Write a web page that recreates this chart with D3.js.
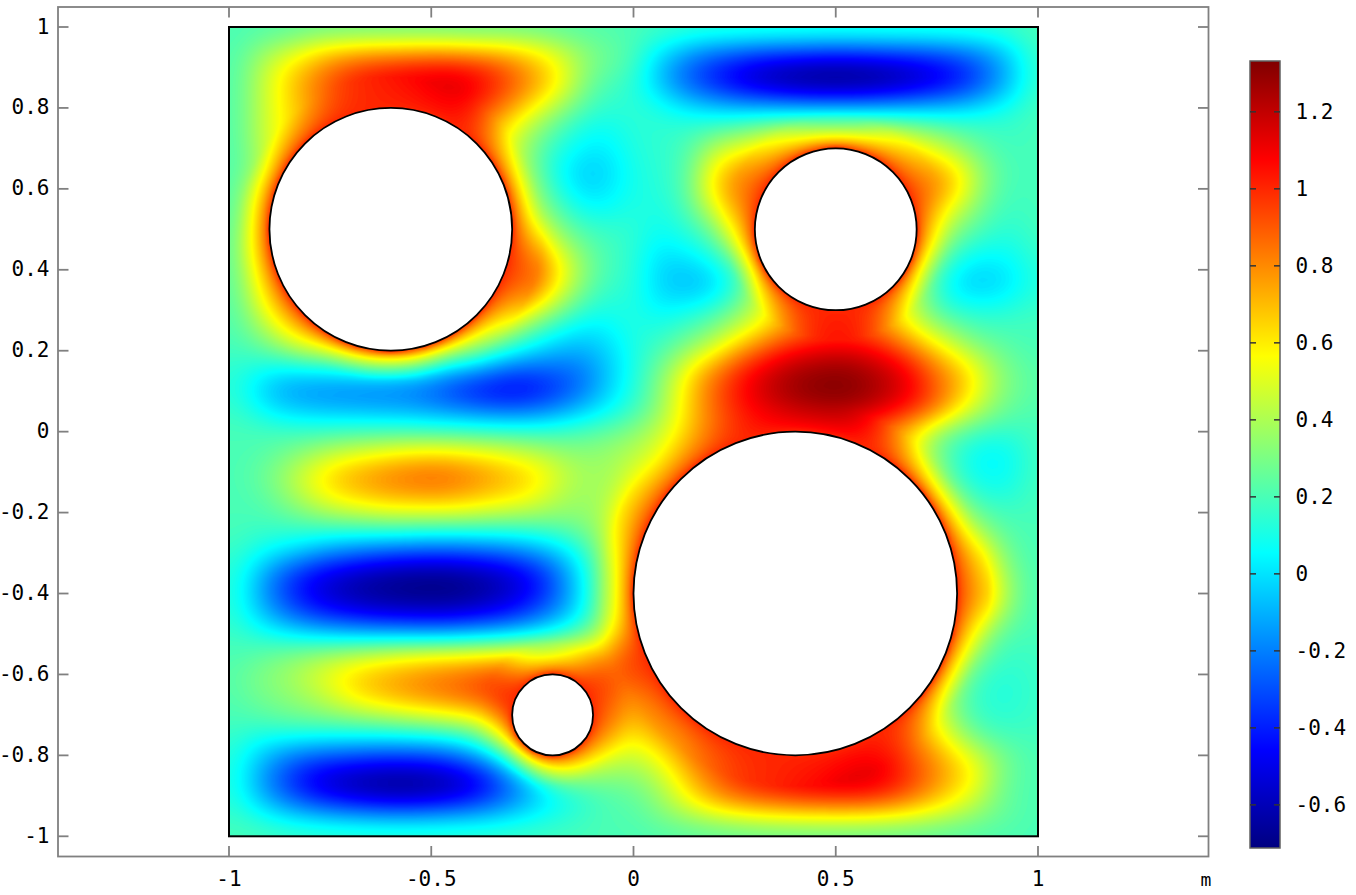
<!DOCTYPE html>
<html>
<head>
<meta charset="utf-8">
<style>html,body{margin:0;padding:0;background:#fff}svg{display:block}text{font-family:"DejaVu Sans Mono",monospace;fill:#000}</style>
<script src="https://cdn.jsdelivr.net/npm/d3@7"></script>
</head>
<body>
<div id="chart"></div>
<script>
const xTicks=[-1,-0.5,0,0.5,1];
const yTicks=[-1,-0.8,-0.6,-0.4,-0.2,0,0.2,0.4,0.6,0.8,1];
const barTicks=[-0.6,-0.4,-0.2,0,0.2,0.4,0.6,0.8,1,1.2];
const valueMin=-0.712, valueMax=1.332;
const jetStops=["#000080","#0000ff","#00ffff","#ffff00","#ff0000","#800000"];
const jetOffsets=[0,0.125,0.375,0.625,0.875,1];
const holes=[{x:-0.6,y:0.5,r:0.3},{x:0.5,y:0.5,r:0.2},{x:0.4,y:-0.4,r:0.4},{x:-0.2,y:-0.7,r:0.1}];
const holeEdgeValue=1;
const gridXs=d3.range(41).map(i=>-1+i*0.05);
const gridYs=d3.range(41).map(i=>1-i*0.05);
// field values, top row (y=1) to bottom row (y=-1), x=-1..1 step 0.05
const field=[
[.2,.2,.2,.2,.2,.2,.2,.2,.2,.2,.2,.2,.2,.2,.2,.2,.2,.2,.2,.2,.2, .2,.2,.2,.2,.2,.2,.2,.2,.2,.2,.2,.2,.2,.2,.2,.2,.2,.2,.2,.2],
[.2,.27,.35,.42,.52,.58,.6,.62,.62,.63,.63,.62,.6,.6,.58,.54,.46,.37,.3,.25,.2, .08,0,-.09,-.13,-.16,-.18,-.2,-.2,-.22,-.22,-.22,-.21,-.2,-.2,-.18,-.16,-.12,-.05,.06,.2],
[.2,.32,.48,.62,.72,.85,.94,1,1.03,1.06,1.08,1.09,1.05,.98,.87,.74,.62,.44,.3,.24,.18, -.02,-.17,-.3,-.4,-.48,-.55,-.6,-.63,-.65,-.66,-.65,-.63,-.6,-.55,-.5,-.42,-.31,-.17,0,.18],
[.2,.33,.5,.65,.8,.92,1,1.05,1.08,1.11,1.13,1.14,1.1,1,.9,.76,.62,.42,.24,.18,.12, 0,-.15,-.27,-.37,-.46,-.53,-.58,-.62,-.64,-.65,-.64,-.62,-.58,-.53,-.47,-.4,-.29,-.15,.01,.19],
[.2,.33,.5,.63,.75,.88,1,1,1,1,1.03,1.1,1.03,.9,.75,.58,.42,.28,.18,.14,.15, .12,.06,0,-.03,-.06,-.07,-.08,-.09,-.1,-.1,-.1,-.09,-.08,-.07,-.05,-.03,.01,.07,.13,.2],
[.2,.33,.5,.62,.78,1,1,1,1,1,1,1,.88,.72,.54,.38,.25,.14,.07,.08,.13, .14,.15,.17,.2,.24,.3,.35,.39,.42,.44,.42,.4,.37,.32,.27,.22,.19,.17,.17,.2],
[.2,.32,.5,.66,1,1,1,1,1,1,1,1,1,.72,.48,.3,.16,.07,.02,.05,.12, .14,.17,.25,.42,.5,.56,.7,.85,.95,1,1,.9,.72,.58,.48,.36,.26,.2,.18,.2],
[.2,.3,.48,1,1,1,1,1,1,1,1,1,1,1,.54,.3,.1,0,-.05,0,.1, .13,.17,.3,.6,.72,.85,.97,1,1,1,1,1,.95,.82,.72,.6,.38,.25,.19,.2],
[.2,.38,.8,1,1,1,1,1,1,1,1,1,1,1,.7,.38,.17,.02,-.02,.03,.1, .12,.17,.32,.65,.78,.95,1,1,1,1,1,1,1,.9,.8,.65,.38,.24,.18,.2],
[.2,.42,.95,1,1,1,1,1,1,1,1,1,1,1,.85,.4,.27,.12,.06,.07,.12, .1,.14,.27,.5,.72,.98,1,1,1,1,1,1,1,1,.65,.47,.3,.2,.17,.2],
[.2,.48,1,1,1,1,1,1,1,1,1,1,1,1,1,.65,.38,.24,.18,.16,.15, .08,.1,.17,.3,.62,1,1,1,1,1,1,1,1,1,.56,.32,.22,.15,.14,.2],
[.2,.5,.98,1,1,1,1,1,1,1,1,1,1,1,1,.85,.55,.36,.24,.18,.14, .03,.03,.08,.17,.4,.72,1,1,1,1,1,1,1,.92,.4,.18,.1,.08,.1,.18],
[.2,.46,.8,1,1,1,1,1,1,1,1,1,1,1,1,.92,.7,.45,.27,.18,.14, 0,-.05,-.04,.02,.16,.46,1,1,1,1,1,1,1,.56,.2,.05,-.02,0,.05,.15],
[.2,.42,.7,1,1,1,1,1,1,1,1,1,1,1,.98,.85,.6,.38,.22,.15,.13, 0,-.05,-.07,-.01,.13,.4,.78,1,1,1,1,1,.72,.42,.15,0,-.03,-.01,.05,.14],
[.2,.35,.58,.82,1,1,1,1,1,1,1,1,1,.98,.75,.55,.38,.22,.12,.1,.12, .05,.06,.1,.17,.3,.42,.6,.8,.95,1,.95,.82,.6,.4,.22,.15,.12,.12,.15,.18],
[.2,.28,.42,.6,.78,1,1,1,1,1,1,1,.72,.52,.37,.22,.1,.02,0,.05,.12, .12,.17,.24,.33,.45,.58,.72,.82,.9,.92,.92,.85,.72,.56,.42,.3,.22,.2,.19,.19],
[.18,.2,.26,.35,.45,.48,.68,.92,1,.95,.62,.45,.35,.2,.1,0,-.07,-.1,-.08,0,.1, .18,.27,.4,.52,.72,.86,1,1.08,1.12,1.15,1.13,1.08,.98,.82,.65,.5,.36,.28,.22,.2],
[.15,.1,.04,.01,.02,.03,.03,.04,.04,.0,-.02,-.1,-.15,-.22,-.3,-.3,-.27,-.25,-.16,-.02,.1, .25,.42,.65,.82,.98,1.1,1.18,1.25,1.28,1.3,1.28,1.22,1.15,1.03,.85,.72,.54,.36,.27,.22],
[.15,.05,-.07,-.14,-.17,-.19,-.19,-.2,-.2,-.22,-.28,-.36,-.43,-.47,-.48,-.45,-.38,-.27,-.14,0,.12, .28,.48,.7,.88,1.02,1.13,1.22,1.28,1.32,1.33,1.31,1.25,1.17,1.05,.88,.72,.54,.35,.27,.22],
[.17,.12,.03,-.02,-.04,-.06,-.07,-.08,-.09,-.1,-.12,-.14,-.17,-.2,-.22,-.2,-.15,-.08,0,.08,.18, .3,.5,.7,.88,1,1.08,1.13,1.18,1.2,1.22,1.2,1.15,1.07,.97,.82,.6,.42,.3,.23,.21],
[.2,.2,.2,.19,.18,.19,.2,.2,.2,.2,.18,.18,.17,.17,.17,.17,.17,.2,.23,.27,.33, .43,.55,.72,.85,.95,1,1,1,1,1,.95,.85,.72,.56,.35,.24,.18,.15,.16,.2],
[.2,.2,.23,.28,.35,.41,.46,.5,.54,.57,.59,.58,.55,.52,.47,.42,.37,.33,.33,.37,.42, .48,.65,.82,.98,1,1,1,1,1,1,1,.98,.78,.56,.28,.17,.06,.05,.1,.2],
[.2,.23,.3,.4,.52,.64,.72,.77,.82,.85,.87,.85,.81,.75,.69,.63,.52,.42,.38,.38,.5, .6,.82,1,1,1,1,1,1,1,1,1,1,1,.68,.38,.14,.07,.05,.1,.2],
[.2,.21,.27,.37,.5,.6,.67,.72,.76,.78,.8,.78,.74,.69,.65,.58,.47,.38,.37,.42,.62, .82,1,1,1,1,1,1,1,1,1,1,1,1,1,.54,.28,.14,.1,.14,.2],
[.2,.2,.22,.27,.33,.4,.44,.47,.5,.5,.5,.5,.48,.45,.42,.4,.36,.35,.36,.48,.8, 1,1,1,1,1,1,1,1,1,1,1,1,1,1,1,.45,.27,.2,.18,.2],
[.2,.17,.15,.14,.13,.11,.1,.1,.1,.09,.08,.08,.08,.09,.1,.12,.16,.22,.32,.5,.95, 1,1,1,1,1,1,1,1,1,1,1,1,1,1,1,.7,.42,.27,.21,.2],
[.17,.11,.04,-.03,-.1,-.18,-.22,-.27,-.3,-.32,-.33,-.33,-.31,-.28,-.24,-.17,-.08,.04,.22,.52,.98, 1,1,1,1,1,1,1,1,1,1,1,1,1,1,1,.9,.68,.38,.23,.2],
[.15,.02,-.18,-.33,-.45,-.52,-.58,-.62,-.65,-.67,-.68,-.67,-.64,-.6,-.54,-.44,-.3,-.06,.16,.52,1, 1,1,1,1,1,1,1,1,1,1,1,1,1,1,1,1,.78,.45,.27,.2],
[.15,0,-.2,-.36,-.48,-.56,-.62,-.66,-.68,-.7,-.7,-.7,-.67,-.62,-.55,-.45,-.3,-.08,.16,.53,1, 1,1,1,1,1,1,1,1,1,1,1,1,1,1,1,1,.85,.53,.28,.2],
[.15,.03,-.12,-.25,-.35,-.42,-.46,-.5,-.52,-.53,-.54,-.53,-.5,-.46,-.4,-.3,-.18,-.03,.18,.54,1, 1,1,1,1,1,1,1,1,1,1,1,1,1,1,1,1,.72,.42,.25,.2],
[.18,.14,.09,.04,0,-.03,-.05,-.07,-.08,-.09,-.1,-.09,-.07,-.04,-.01,.04,.1,.2,.32,.58,1, 1,1,1,1,1,1,1,1,1,1,1,1,1,1,1,.9,.48,.27,.2,.2],
[.2,.22,.26,.3,.34,.38,.42,.46,.5,.53,.55,.56,.57,.58,.6,.62,.62,.66,.68,.78,.98, 1,1,1,1,1,1,1,1,1,1,1,1,1,1,1,.62,.34,.2,.16,.19],
[.22,.28,.33,.38,.46,.54,.62,.68,.72,.76,.8,.83,.87,.92,.96,1,1,1,.95,.9,.9, 1,1,1,1,1,1,1,1,1,1,1,1,1,1,1,.42,.2,.14,.14,.18],
[.21,.26,.3,.34,.4,.48,.6,.68,.74,.79,.83,.87,.92,.97,1,1,1,1,.98,.88,.78, .9,1,1,1,1,1,1,1,1,1,1,1,1,1,.55,.28,.16,.12,.13,.18],
[.2,.22,.25,.28,.3,.33,.36,.39,.43,.47,.51,.55,.6,.72,1,1,1,1,1,.82,.72, .82,.95,1,1,1,1,1,1,1,1,1,1,1,.78,.55,.3,.18,.14,.15,.18],
[.17,.12,.1,.1,.09,.08,.08,.08,.08,.09,.1,.14,.2,.42,.8,1,1,1,1,.72,.58, .72,.8,.92,1,1,1,1,1,1,1,1,1,.98,.8,.6,.42,.26,.2,.18,.19],
[.15,.02,-.1,-.2,-.25,-.28,-.3,-.32,-.33,-.32,-.3,-.25,-.14,0,.28,.72,1,.8,.6,.5,.46, .54,.7,.85,.95,1,1,1,1,1.02,1.07,1.1,1.1,1,.88,.76,.62,.46,.33,.24,.2],
[.14,-.02,-.2,-.35,-.48,-.55,-.6,-.63,-.65,-.65,-.63,-.58,-.5,-.36,-.15,.05,.32,.38,.36,.34,.34, .42,.56,.74,.86,.97,1.03,1.07,1.1,1.13,1.15,1.16,1.13,1.05,.93,.8,.67,.56,.33,.24,.2],
[.14,0,-.17,-.3,-.42,-.5,-.56,-.6,-.63,-.63,-.6,-.56,-.48,-.37,-.24,-.1,.03,.1,.17,.22,.25, .33,.47,.64,.78,.88,.94,.98,1.02,1.04,1.05,1.05,1.02,.95,.84,.72,.6,.46,.3,.23,.2],
[.17,.13,.07,0,-.04,-.08,-.1,-.12,-.13,-.13,-.12,-.1,-.08,-.05,0,.05,.1,.15,.19,.22,.22, .28,.34,.4,.46,.5,.54,.56,.57,.58,.58,.58,.56,.54,.5,.45,.39,.33,.27,.23,.2],
[.2,.2,.2,.2,.2,.2,.2,.2,.2,.2,.2,.2,.2,.2,.2,.2,.2,.2,.2,.2,.2, .2,.2,.2,.2,.2,.2,.2,.2,.2,.2,.2,.2,.2,.2,.2,.2,.2,.2,.2,.2]
];
field.forEach((r,i)=>{if(r.length!==41)console.error("row",i,r.length)});

const W=1356,H=895;
const frame={l:58,r:1208.5,t:7,b:856.5};
const x=d3.scaleLinear().domain([-1,1]).range([229,1038]);
const y=d3.scaleLinear().domain([-1,1]).range([836.3,27]);
const barY=d3.scaleLinear().domain([valueMin,valueMax]).range([848,61]);
const color=d3.scaleLinear().domain(jetOffsets.map(t=>valueMin+t*(valueMax-valueMin))).range(jetStops).clamp(true);

const svg=d3.select("#chart").append("svg").attr("width",W).attr("height",H);
const defs=svg.append("defs");
defs.append("clipPath").attr("id","box").append("rect")
  .attr("x",x(-1)).attr("y",y(1)).attr("width",x(1)-x(-1)).attr("height",y(-1)-y(1));
const grad=defs.append("linearGradient").attr("id","jet").attr("x1",0).attr("x2",0).attr("y1",1).attr("y2",0);
jetStops.forEach((c,i)=>grad.append("stop").attr("offset",jetOffsets[i]).attr("stop-color",c));

// smooth rendering of the read grid: resample, soften, pin to hole edges, then filled contours
const f=4, n=gridXs.length, m=(n-1)*f+1;
function cr(a,b,c,d,t){return 0.5*(2*b+(c-a)*t+(2*a-5*b+4*c-d)*t*t+(3*b-a-3*c+d)*t*t*t);}
const cl=i=>Math.max(0,Math.min(n-1,i));
const rowsFine=field.map(r=>{const o=new Float64Array(m);
  for(let k=0;k<m;k++){const i=Math.floor(k/f),t=k/f-i;o[k]=cr(r[cl(i-1)],r[cl(i)],r[cl(i+1)],r[cl(i+2)],t);}return o;});
const raw=new Float64Array(m*m);
for(let j=0;j<m;j++){const i=Math.floor(j/f),t=j/f-i;
  for(let k=0;k<m;k++)raw[j*m+k]=cr(rowsFine[cl(i-1)][k],rowsFine[cl(i)][k],rowsFine[cl(i+1)][k],rowsFine[cl(i+2)][k],t);}
d3.blur2({data:raw,width:m,height:m},2);
const idxX=d3.scaleLinear().domain([-1,1]).range([0,m-1]);
const idxY=d3.scaleLinear().domain([1,-1]).range([0,m-1]);
function sample(px,py){
  const a=Math.max(0,Math.min(m-1.001,idxX(px))),b=Math.max(0,Math.min(m-1.001,idxY(py)));
  const i=Math.floor(a),j=Math.floor(b),u=a-i,v=b-j;
  return raw[j*m+i]*(1-u)*(1-v)+raw[j*m+i+1]*u*(1-v)+raw[(j+1)*m+i]*(1-u)*v+raw[(j+1)*m+i+1]*u*v;
}
const values=Float64Array.from(raw);
const band=0.075, bend=0.7;
for(let j=0;j<m;j++)for(let k=0;k<m;k++){
  const px=idxX.invert(k),py=idxY.invert(j);
  for(const h of holes){
    const dx=px-h.x,dy=py-h.y,dist=Math.hypot(dx,dy),d=dist-h.r;
    if(d<=0){values[j*m+k]=holeEdgeValue;break;}
    if(d<band){
      const s=(h.r+band)/dist, edge=sample(h.x+dx*s,h.y+dy*s);
      values[j*m+k]=holeEdgeValue+(edge-holeEdgeValue)*Math.pow(d/band,bend);
      break;
    }
  }
}
const thresholds=d3.range(valueMin,valueMax,0.01);
const contours=d3.contours().size([m,m]).thresholds(thresholds)(values);
const toX=d3.scaleLinear().domain([0.5,m-0.5]).range([-1,1]);
const toY=d3.scaleLinear().domain([0.5,m-0.5]).range([1,-1]);
const path=d3.geoPath(d3.geoTransform({point(a,b){this.stream.point(x(toX(a)),y(toY(b)));}}));
const gField=svg.append("g").attr("clip-path","url(#box)");
gField.append("rect").attr("x",x(-1)).attr("y",y(1)).attr("width",x(1)-x(-1)).attr("height",y(-1)-y(1)).attr("fill",color(valueMin));
gField.selectAll("path").data(contours).join("path").attr("d",path).attr("fill",d=>color(d.value+0.005));

// holes
svg.append("g").selectAll("circle").data(holes).join("circle")
  .attr("cx",d=>x(d.x)).attr("cy",d=>y(d.y)).attr("r",d=>x(d.r)-x(0))
  .attr("fill","#fff").attr("stroke","#000").attr("stroke-width",1.8);
// data box
svg.append("rect").attr("x",x(-1)).attr("y",y(1)).attr("width",x(1)-x(-1)).attr("height",y(-1)-y(1))
  .attr("fill","none").attr("stroke","#000").attr("stroke-width",2);

// frame and ticks
const gray="#808080";
const gA=svg.append("g").attr("stroke",gray).attr("stroke-width",1.8);
gA.append("rect").attr("x",frame.l).attr("y",frame.t).attr("width",frame.r-frame.l).attr("height",frame.b-frame.t).attr("fill","none");
const tl=10.5;
xTicks.forEach(v=>{
  gA.append("line").attr("x1",x(v)).attr("x2",x(v)).attr("y1",frame.t).attr("y2",frame.t+tl);
  gA.append("line").attr("x1",x(v)).attr("x2",x(v)).attr("y1",frame.b).attr("y2",frame.b-tl);
});
yTicks.forEach(v=>{
  gA.append("line").attr("y1",y(v)).attr("y2",y(v)).attr("x1",frame.l).attr("x2",frame.l+tl);
  gA.append("line").attr("y1",y(v)).attr("y2",y(v)).attr("x1",frame.r).attr("x2",frame.r-tl);
});
const fs=21;
const fmt=v=>String(+v.toFixed(1));
svg.append("g").selectAll("text").data(xTicks).join("text").attr("x",d=>x(d)).attr("y",880)
  .attr("dominant-baseline","middle").attr("text-anchor","middle").attr("font-size",fs).text(fmt);
svg.append("g").selectAll("text").data(yTicks).join("text").attr("x",49.5).attr("y",d=>y(d)+0.5)
  .attr("dominant-baseline","middle").attr("text-anchor","end").attr("font-size",fs).text(fmt);
svg.append("text").attr("x",1206).attr("y",881).attr("dominant-baseline","middle").attr("text-anchor","middle").attr("font-size",18).text("m");

// colour bar
svg.append("rect").attr("x",1250).attr("y",barY(valueMax)).attr("width",30).attr("height",barY(valueMin)-barY(valueMax))
  .attr("fill","url(#jet)").attr("stroke","#606060").attr("stroke-width",1.5);
const gB=svg.append("g").attr("stroke","#333").attr("stroke-width",1.5);
barTicks.forEach(v=>{
  gB.append("line").attr("x1",1250).attr("x2",1256).attr("y1",barY(v)).attr("y2",barY(v));
  gB.append("line").attr("x1",1274).attr("x2",1280).attr("y1",barY(v)).attr("y2",barY(v));
});
svg.append("g").selectAll("text").data(barTicks).join("text").attr("x",1295.5).attr("y",d=>barY(d)+1.5)
  .attr("dominant-baseline","middle").attr("text-anchor","start").attr("font-size",fs).text(fmt);
</script>
</body>
</html>
